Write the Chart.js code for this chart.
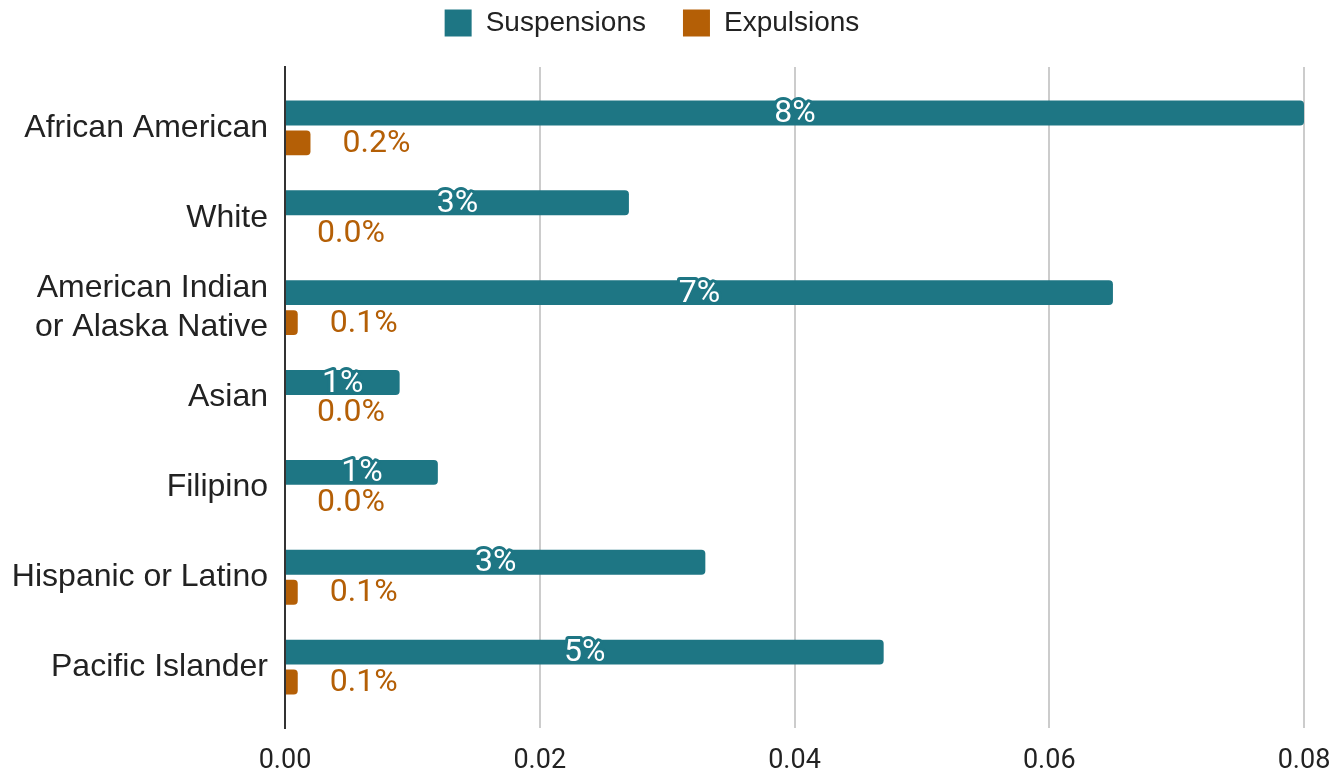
<!DOCTYPE html>
<html>
<head>
<meta charset="utf-8">
<script src="https://cdn.jsdelivr.net/npm/chart.js@4.4.1/dist/chart.umd.min.js"></script>
<style>
  html, body { margin: 0; padding: 0; background: #fff; }
</style>
</head>
<body>
<canvas id="barChart" width="1336" height="772"></canvas>
<script>
// Datos
var categorias = ['African American', 'White', ['American Indian', 'or Alaska Native'], 'Asian', 'Filipino', 'Hispanic or Latino', 'Pacific Islander'];
var suspensiones = [0.080, 0.027, 0.065, 0.009, 0.012, 0.033, 0.047];
var expulsiones = [0.002, 0, 0.001, 0, 0, 0.001, 0.001];
var ticksX = [0, 0.02, 0.04, 0.06, 0.08];
var etiquetasX = ['0.00', '0.02', '0.04', '0.06', '0.08'];

var COLOR_SUSP = '#1e7684';
var COLOR_EXP = '#b45f06';

// Plugin para dibujar las etiquetas de valor
var etiquetasPlugin = {
    id: 'etiquetas',
    beforeUpdate: function (chart) {
        // dejar mas espacio entre la leyenda y el area de la grafica
        var lg = chart.legend;
        if (lg && !lg._parcheado) {
            var fitOrig = lg.fit;
            lg.fit = function () {
                fitOrig.call(this);
                this.height += 20;
            };
            lg._parcheado = true;
        }
    },
    afterDatasetsDraw: function (chart) {
        var ctx = chart.ctx;
        ctx.save();
        ctx.font = '32px Roboto';
        ctx.textBaseline = 'middle';

        // Suspensiones: texto blanco con contorno, centrado en la barra
        chart.getDatasetMeta(0).data.forEach(function (bar, i) {
            var txt = Math.round(suspensiones[i] * 100) + '%';
            var cx = (bar.x + bar.base) / 2;
            ctx.textAlign = 'center';
            ctx.lineJoin = 'round';
            ctx.lineWidth = 6;
            ctx.strokeStyle = COLOR_SUSP;
            ctx.strokeText(txt, cx, bar.y + 1);
            ctx.fillStyle = '#ffffff';
            ctx.fillText(txt, cx, bar.y + 1);
        });

        // Expulsiones: texto naranja a la derecha de la barra
        chart.getDatasetMeta(1).data.forEach(function (bar, i) {
            var txt = (expulsiones[i] * 100).toFixed(1) + '%';
            ctx.textAlign = 'left';
            ctx.fillStyle = COLOR_EXP;
            ctx.fillText(txt, bar.x + 32, bar.y + 1);
        });
        ctx.restore();
    }
};

var ctx = document.getElementById('barChart').getContext('2d');
var myChart = new Chart(ctx, {
    type: 'bar',
    data: {
        labels: categorias,
        datasets: [{
            label: 'Suspensions',
            data: suspensiones,
            backgroundColor: COLOR_SUSP,
            borderRadius: 4,
            barPercentage: 0.83,
            categoryPercentage: 0.667
        }, {
            label: 'Expulsions',
            data: expulsiones,
            backgroundColor: COLOR_EXP,
            borderRadius: 4,
            barPercentage: 0.83,
            categoryPercentage: 0.667
        }]
    },
    options: {
        indexAxis: 'y',
        responsive: false,
        animation: false,
        layout: { padding: { top: -28, right: 32, bottom: 0, left: 0 } },
        plugins: {
            tooltip: { enabled: false },
            legend: {
                position: 'top',
                labels: {
                    boxWidth: 27,
                    boxHeight: 27,
                    padding: 37,
                    color: '#222',
                    font: { family: 'Liberation Sans', size: 28 }
                }
            }
        },
        scales: {
            x: {
                min: 0,
                max: 0.08,
                afterBuildTicks: function (s) {
                    s.ticks = ticksX.map(function (v) { return { value: v }; });
                },
                afterFit: function (s) {
                    s.height = 44;
                    s.paddingRight = 0;
                },
                ticks: {
                    color: '#222',
                    padding: 17,
                    font: { family: 'Roboto', size: 27 },
                    callback: function (v, i) { return etiquetasX[i]; }
                },
                grid: {
                    drawTicks: false,
                    lineWidth: 2,
                    color: function (c) { return c.index === 0 ? 'rgba(0,0,0,0)' : '#cccccc'; }
                },
                border: { display: false }
            },
            y: {
                afterBuildTicks: function (s) {
                    // espacio extra arriba y abajo de las categorias
                    s._startValue -= 0.178;
                    s._valueRange += 0.356;
                },
                afterFit: function (s) { s.width = 285; },
                ticks: {
                    color: '#222',
                    padding: 17,
                    font: { family: 'Liberation Sans', size: 32, lineHeight: 1.19 }
                },
                grid: { display: false, drawTicks: false },
                border: { display: true, color: '#333', width: 2 }
            }
        }
    },
    plugins: [etiquetasPlugin]
});
</script>
</body>
</html>
